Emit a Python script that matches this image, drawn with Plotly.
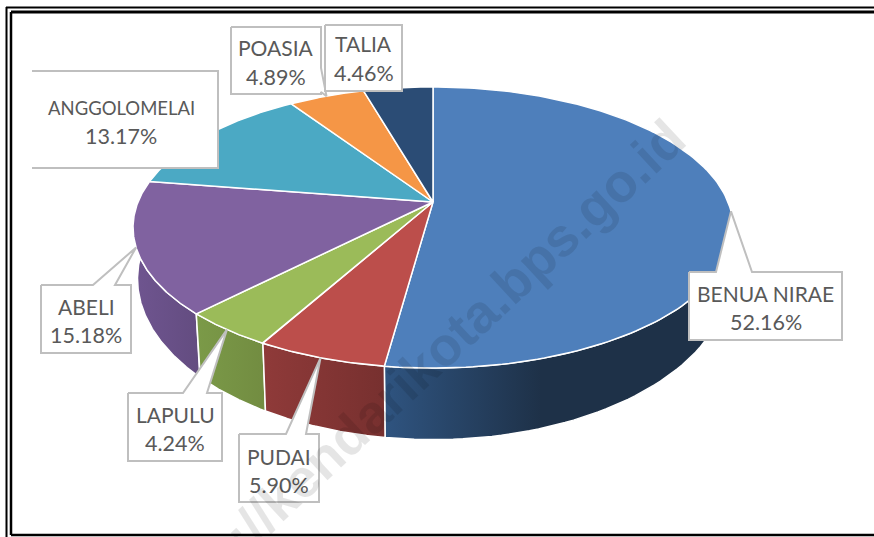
import numpy as np
import plotly.graph_objects as go

# ---------- data ----------
DISTRICTS = ["BENUA NIRAE", "PUDAI", "LAPULU", "ABELI", "ANGGOLOMELAI", "POASIA", "TALIA"]
SHARES = [52.16, 5.90, 4.24, 15.18, 13.17, 4.89, 4.46]
TOP_COLORS = ["#4E7FBB", "#BC4E4B", "#9BBB59", "#8062A0", "#4BA9C4", "#F59646", "#2B4C75"]
SIDE_LEFT = ["#2F5480", "#8F3A39", "#7B9A48", "#6F5590", "#3A8299", "#B86F33", "#1F3858"]
SIDE_RIGHT = ["#1E3148", "#77302F", "#728C41", "#634C80", "#3A8299", "#B86F33", "#1F3858"]
LABEL_BOX = [(689, 842, 272, 340), (239, 319, 434, 502), (128, 222, 393, 461), (41, 131, 285, 353),
             (32, 218, 71, 168), (231, 321, 27, 94), (325, 402, 25, 91)]
LABEL_SIZE = [21, 21, 21, 21, 18.5, 21, 21]
PCT_SIZE = 21.5
LABEL_Y = [(293, 322), (456, 485), (414, 443), (306, 335), (108, 136), (47, 77), (43, 73)]
LABEL_DX = [0, 0, 0, 0, -4, 0, 0]
POINTER_BASE = [(716, 752), (286, 306), (183, 207), (93, 115), None, (68, 92), None]
WATERMARK = "https://kendarikota.bps.go.id"

# ---------- projection of the tilted disc ----------
CX, CY, A, B, K = 433.0, 202.0, 295.0, 135.9, 0.1815
DEPTH, SHRINK = 48.0, 0.985


def project(frac, lower=False):
    t = 2 * np.pi * np.asarray(frac) / 100.0
    u, v = np.sin(t), np.cos(t)
    w = 1 + K * v
    x, y = A * u / w, -B * v / w
    if lower:
        return CX + x * SHRINK, CY + y + DEPTH / w ** 2
    return CX + x, CY + y


fig = go.Figure()
edges = np.concatenate([[0], np.cumsum(SHARES)])

# sides, back to front
order = sorted(range(len(SHARES)), key=lambda i: -np.cos(np.pi * (edges[i] + edges[i + 1]) / 100))
for i in order:
    f = np.linspace(edges[i], edges[i + 1], 120)
    xt, yt = project(f)
    xb, yb = project(f, True)
    stops = [[0, SIDE_LEFT[i]], [0.45, SIDE_RIGHT[i]], [1, SIDE_RIGHT[i]]] if i == 0 else \
        [[0, SIDE_LEFT[i]], [1, SIDE_RIGHT[i]]]
    fig.add_trace(go.Scatter(
        x=np.concatenate([xt, xb[::-1], xt[:1]]), y=np.concatenate([yt, yb[::-1], yt[:1]]),
        mode="lines", fill="toself", line=dict(color="white", width=1.5),
        fillgradient=dict(type="horizontal", colorscale=stops),
        hoverinfo="skip"))

# top faces
for i in range(len(SHARES)):
    f = np.linspace(edges[i], edges[i + 1], 160)
    xt, yt = project(f)
    fig.add_trace(go.Scatter(
        x=np.concatenate([[CX], xt, [CX]]), y=np.concatenate([[CY], yt, [CY]]),
        mode="lines", fill="toself", fillcolor=TOP_COLORS[i],
        line=dict(color="white", width=1.5), name=DISTRICTS[i], hoverinfo="name"))

# callout labels
GREY = "#BFBFBF"
annotations = []
for i, name in enumerate(DISTRICTS):
    x0, x1, y0, y1 = LABEL_BOX[i]
    mid = (edges[i] + edges[i + 1]) / 2
    tx, ty = project(mid)
    base = POINTER_BASE[i]
    if name == "ANGGOLOMELAI":
        px, py = [x0, x1, x1, x0], [y0, y0, y1, y1]
    elif name == "POASIA":
        px = [x0, x1, x1, tx, x1, x1, x0, x0]
        py = [y0, y0, base[0], ty, base[1], y1, y1, y0]
    elif base is None:
        px, py = [x0, x1, x1, x0, x0], [y0, y0, y1, y1, y0]
    else:
        px = [x0, base[0], tx, base[1], x1, x1, x0, x0]
        py = [y0, y0, ty, y0, y0, y1, y1, y0]
    fig.add_trace(go.Scatter(x=px, y=py, mode="lines", fill="toself", fillcolor="white",
                             line=dict(color=GREY, width=2), hoverinfo="skip"))
    for txt, yy, sz in zip([name, f"{SHARES[i]:.2f}%"], LABEL_Y[i], [LABEL_SIZE[i], PCT_SIZE]):
        annotations.append(dict(x=(x0 + x1) / 2 + LABEL_DX[i], y=yy, text=txt,
                                showarrow=False, xanchor="center", yanchor="middle",
                                font=dict(family="Lato", size=sz, color="#595959")))

annotations.append(dict(x=406, y=381, text=f"<b>{WATERMARK}</b>", textangle=-43, showarrow=False,
                        xanchor="center", yanchor="middle",
                        font=dict(family="Liberation Sans", size=54, color="rgba(0,0,0,0.10)")))

frame = [
    (6, 7.5, 874, 7.5, 2), (11, 12, 874, 12, 3), (6.5, 7, 6.5, 537, 2),
    (11, 12, 11, 535, 2.5), (11, 535, 874, 535, 2.5),
]
shapes = [dict(type="line", x0=a, y0=b, x1=c, y1=d, line=dict(color="black", width=w), layer="above")
          for a, b, c, d, w in frame]

fig.update_layout(
    width=874, height=537, margin=dict(l=0, r=0, t=0, b=0), showlegend=False,
    paper_bgcolor="white", plot_bgcolor="white", annotations=annotations, shapes=shapes,
    xaxis=dict(range=[0, 874], visible=False, fixedrange=True),
    yaxis=dict(range=[537, 0], visible=False, fixedrange=True),
)
fig.write_html("out.html", post_script="document.body.style.margin='0';",
               config={"displayModeBar": False})
